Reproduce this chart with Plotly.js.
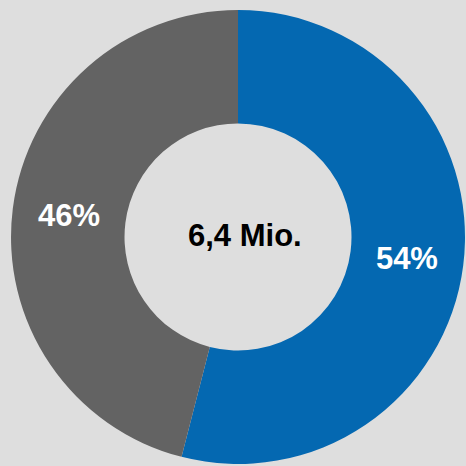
<!DOCTYPE html>
<html>
<head>
<meta charset="utf-8">
<script src="https://cdn.plot.ly/plotly-3.0.1.min.js"></script>
<style>
html,body{margin:0;padding:0;background:#dedede;}
#chart{width:466px;height:466px;}
</style>
</head>
<body>
<div id="chart"></div>
<script>
var categories = ["Blau", "Grau"];
var values = [54, 46];
var sliceColors = ["#0468b1", "#636363"];
var centerLabel = "6,4 Mio.";

var trace = {
  type: "pie",
  labels: categories,
  values: values,
  hole: 0.5,
  sort: false,
  direction: "clockwise",
  rotation: 0,
  marker: {colors: sliceColors, line: {width: 0}},
  textinfo: "percent",
  texttemplate: "%{percent:.0%}",
  textposition: "inside",
  insidetextorientation: "horizontal",
  textfont: {family: "Liberation Sans, Arial, sans-serif", size: 31, color: "#ffffff", weight: "bold"},
  hoverinfo: "none",
  showlegend: false,
  domain: {x: [0.0236, 0.9979], y: [0.0043, 0.9785]}
};

var layout = {
  width: 466,
  height: 466,
  margin: {l: 0, r: 0, t: 0, b: 0},
  paper_bgcolor: "#dedede",
  plot_bgcolor: "#dedede",
  showlegend: false,
  annotations: [{
    text: "<b>" + centerLabel + "</b>",
    xref: "paper", yref: "paper",
    x: 0.5264, y: 0.4936,
    xanchor: "center", yanchor: "middle",
    showarrow: false,
    font: {family: "Liberation Sans, Arial, sans-serif", size: 31, color: "#000000"}
  }]
};

Plotly.newPlot("chart", [trace], layout, {displayModeBar: false, staticPlot: true});
</script>
</body>
</html>
